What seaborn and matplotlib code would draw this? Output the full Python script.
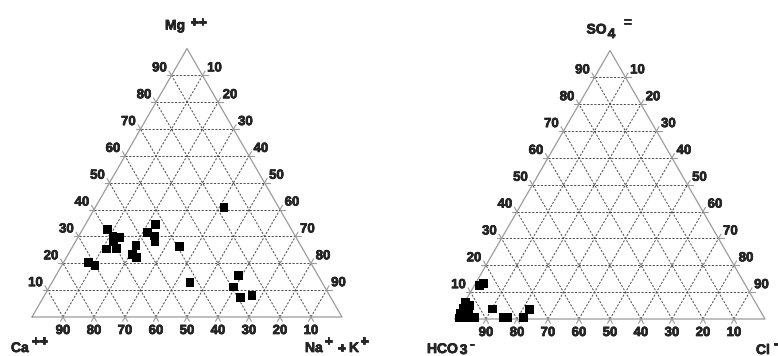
import numpy as np
import pandas as pd
import matplotlib
matplotlib.use("Agg")
import matplotlib.pyplot as plt
import matplotlib.patheffects as pe
import seaborn as sns

# Cations, percent of meq/L (Ca++, Mg++, Na+ + K+)
ca = [17.7, 42.8, 59.3, 46.9, 58.9, 57.0, 45.4, 59.5, 46.3, 53.2, 39.2,
      63.2, 60.0, 55.8, 55.2, 71.5, 70.0, 25.6, 42.6, 29.5, 25.0, 29.1]
mg = [40.7, 34.6, 32.5, 31.5, 30.0, 29.7, 30.2, 28.2, 28.0, 26.5, 26.2,
      25.3, 25.4, 23.4, 22.1, 20.3, 19.3, 15.4, 12.8, 11.2, 8.0, 7.2]
na_k = [41.6, 22.6, 8.2, 21.6, 11.1, 13.3, 24.4, 12.3, 25.7, 20.3, 34.6,
        11.5, 14.6, 20.8, 22.7, 8.2, 10.7, 59.0, 44.6, 59.3, 67.0, 63.7]

# Anions, percent of meq/L (HCO3-, SO4=, Cl-)
hco3 = [85.9, 84.1, 86.0, 74.2, 84.2, 82.8, 77.7, 98.5, 97.2, 95.9, 94.6,
        93.2, 97.0, 95.7, 94.4, 95.4, 94.1, 93.5, 92.7]
so4 = [12.4, 13.3, 3.7, 3.6, 0.5, 0.5, 0.5, 0.4, 0.4, 0.4, 0.4,
       0.7, 2.2, 2.2, 2.2, 4.1, 4.1, 6.0, 4.9]
cl = [1.7, 2.6, 10.3, 22.2, 15.3, 16.7, 21.8, 1.1, 2.4, 3.7, 5.0,
      6.1, 0.8, 2.1, 3.4, 0.5, 1.8, 0.5, 2.4]

tick_values = [10, 20, 30, 40, 50, 60, 70, 80, 90]

sns.set_theme(style="white")
plt.rcParams["font.family"] = ["Liberation Sans", "DejaVu Sans"]
plt.rcParams["font.weight"] = "bold"

H = np.sqrt(3) / 2
PX = 310.0            # pixels per triangle side
PT = 0.72             # points per pixel at 100 dpi

TICK_FS = 9.5
NAME_FS = 10
SUP_FS = 10
HEAVY = [pe.withStroke(linewidth=0.45, foreground="black")]

fig = plt.figure(figsize=(7.78, 3.56), dpi=100)
ax = fig.add_axes([0, 0, 1, 1])

GRID = "#4a4a4a"
EDGE = "#9a9a9a"


def to_xy(left, right, top, origin):
    l, r, t = (np.asarray(v, float) for v in (left, right, top))
    s = l + r + t
    r, t = r / s, t / s
    return origin[0] + r + t / 2, origin[1] + t * H


def draw_triangle(origin):
    ox, oy = origin
    P = lambda x, y: (ox + x, oy + y)
    tri = np.array([P(0, 0), P(1, 0), P(0.5, H), P(0, 0)])
    ax.plot(tri[:, 0], tri[:, 1], color=EDGE, lw=0.9, zorder=2)
    ext = 5 / PX
    for k in range(1, 10):
        f = k / 10
        segs = [
            (P(f / 2, f * H), P(1 - f / 2, f * H)),                 # constant top
            (P(f, 0), P(f + (1 - f) / 2, (1 - f) * H)),             # constant right
            (P(1 - f, 0), P((1 - f) / 2, (1 - f) * H)),             # constant left
        ]
        for a, b in segs:
            a, b = np.array(a), np.array(b)
            ax.plot([a[0], b[0]], [a[1], b[1]], color=GRID, lw=0.7,
                    ls=(0, (2.2, 1.6)), zorder=1)
            d = (b - a) / np.linalg.norm(b - a)
            for p, sgn in ((a, -1), (b, 1)):
                q = p + sgn * d * ext
                ax.plot([p[0], q[0]], [p[1], q[1]], color=EDGE, lw=0.8, zorder=2)
    # percentage labels along the three sides
    kw = dict(textcoords="offset points", ha="center", va="center",
              fontsize=TICK_FS, fontweight="bold", path_effects=HEAVY)
    for v in tick_values:
        f = v / 100
        ax.annotate(str(v), P(1 - f, 0), xytext=(0, -14 * PT), **kw)
        ax.annotate(str(v), P(f / 2, f * H), xytext=(-12 * PT, 7 * PT), **kw)
        ax.annotate(str(v), P((1 - f) * 0.5 + f, (1 - f) * H),
                    xytext=(12 * PT, 7 * PT), **kw)


def vlabel(anchor, x0, parts):
    """Chain of text pieces; x0 = left edge offset (px) of the first piece,
    each part: text, gap before it (px), centre offset down (px), size."""
    renderer = fig.canvas.get_renderer()
    x = x0
    for text, gap, dy, size in parts:
        x += gap
        t = ax.annotate(text, anchor, xytext=(x * PT, -dy * PT),
                        textcoords="offset points", ha="left", va="center",
                        fontsize=size, fontweight="bold", path_effects=HEAVY)
        x += t.get_window_extent(renderer).width


cat_origin = (0.0, 0.0)
an_origin = ((455 - 32) / PX, (317 - 319) / PX)

draw_triangle(cat_origin)
draw_triangle(an_origin)

cx, cy = to_xy(ca, na_k, mg, cat_origin)
axx, ayy = to_xy(hco3, cl, so4, an_origin)
points = pd.concat([
    pd.DataFrame({"x": cx, "y": cy, "group": "cations"}),
    pd.DataFrame({"x": axx, "y": ayy, "group": "anions"}),
])
sns.scatterplot(data=points, x="x", y="y", marker="s", s=40, color="black",
                edgecolor="none", linewidth=0, legend=False, ax=ax, zorder=5)
ax.set_xlim(-32 / PX, (778 - 32) / PX)
ax.set_ylim(-(356 - 317) / PX, 317 / PX)
ax.axis("off")
fig.canvas.draw()

# vertex names
L1, R1, T1 = (0, 0), (1, 0), (0.5, H)
vlabel(T1, -22, [("Mg", 0, -23, NAME_FS), ("++", 5, -26, SUP_FS)])
vlabel(L1, -21, [("Ca", 0, 31, NAME_FS), ("++", 3, 24.5, SUP_FS)])
vlabel(R1, -37, [("Na", 0, 31, NAME_FS), ("+", 2, 24.5, SUP_FS),
                 ("+", 5, 31.5, NAME_FS), ("K", 3, 31, NAME_FS),
                 ("+", 1, 24.5, SUP_FS)])

ox, oy = an_origin
L2, R2, T2 = (ox, oy), (ox + 1, oy), (ox + 0.5, oy + H)
vlabel(T2, -23.5, [("SO", 0, -21, NAME_FS), ("4", 1, -16.5, NAME_FS),
                   ("=", 8, -28.5, SUP_FS)])
vlabel(L2, -28, [("HCO", 0, 30, NAME_FS), ("3", 2, 31, NAME_FS),
                 ("-", 2, 25, SUP_FS)])
vlabel(R2, -9, [("Cl", 0, 31, NAME_FS), ("-", 4, 24.5, SUP_FS)])

fig.savefig("out.png", dpi=100)
